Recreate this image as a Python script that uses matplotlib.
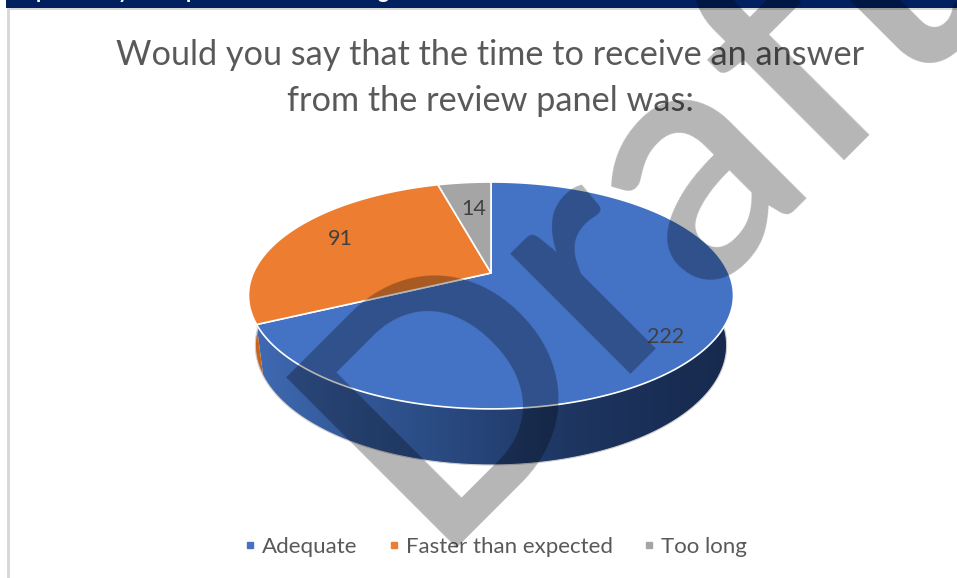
import numpy as np
import matplotlib
matplotlib.use('Agg')
import matplotlib.pyplot as plt
from matplotlib.lines import Line2D
from matplotlib.patches import Polygon, Rectangle
from matplotlib.colors import LinearSegmentedColormap

categories = ['Adequate', 'Faster than expected', 'Too long']
values = [222, 91, 14]
colors = ['#4472C4', '#ED7D31', '#A5A5A5']
title = 'Would you say that the time to receive an answer\nfrom the review panel was:'

plt.rcParams['font.family'] = ['Lato', 'DejaVu Sans']

W, H = 957, 578
fig = plt.figure(figsize=(W / 100, H / 100), dpi=100)
ax = fig.add_axes([0, 0, 1, 1])
ax.set_xlim(0, W)
ax.set_ylim(H, 0)
ax.axis('off')

# perspective of the pie, top face and bottom face
cx = 491
k = 0.198
top = dict(a=237.7, b=109, y0=273)
bot = dict(a=231, b=115, y0=321.6)


def project(deg, f):
    t = np.radians(deg)
    u, v = np.cos(t), np.sin(t)
    d = 1 + k * v
    return cx + f['a'] * u / d, f['y0'] - f['b'] * v / d


# slice angles, clockwise from 12 o'clock
angles = 90 - np.cumsum([0] + values) / sum(values) * 360

# frame and header
ax.add_patch(Rectangle((6, 0), W - 6, 8, color='#002060', lw=0, zorder=1))
ax.add_patch(Rectangle((7, 8), W - 7, 2, color='#D9D9D9', lw=0, zorder=1))
ax.add_patch(Rectangle((7, 8), 3, H - 8, color='#D9D9D9', lw=0, zorder=1))

# only the descenders of the page heading are left in the band
for ch, hx in zip(['p', 'y', 'p', 'g'], [42, 123, 192, 383]):
    ax.text(hx, -2, ch, color='white', fontsize=15, fontweight='bold', ha='center',
            va='baseline', zorder=2)

# side wall, only the front half shows
grad = LinearSegmentedColormap.from_list('side', ['#3F69B2', '#2C4E88', '#1D3560', '#17294D'])
side_col = {0: None, 1: '#C5651F', 2: '#8A8A8A'}
for i in range(len(values)):
    lo, hi = sorted((angles[i + 1] % 360, angles[i] % 360))
    if i == 0:
        lo, hi = angles[1] + 360, 360
    lo, hi = max(lo, 180), min(hi, 360)
    if lo >= hi:
        continue
    th = np.linspace(lo, hi, 120)
    x1, y1 = project(th, top)
    x2, y2 = project(th, bot)
    pts = np.column_stack([np.r_[x1, x2[::-1]], np.r_[y1, y2[::-1]]])
    if i == 0:
        poly = Polygon(pts, closed=True, fc='none', ec='none', zorder=2)
        ax.add_patch(poly)
        img = ax.imshow(np.linspace(0, 1, 256)[None, :], cmap=grad, aspect='auto',
                        extent=(x1.min(), x1.max(), 480, 300), zorder=2)
        img.set_clip_path(poly)
        ax.set_xlim(0, W)
        ax.set_ylim(H, 0)
    else:
        ax.fill(pts[:, 0], pts[:, 1], color=side_col[i], lw=0, zorder=2)

th = np.linspace(180, 360, 200)
x2, y2 = project(th, bot)
ax.plot(x2, y2, color='#D0D0D0', lw=0.8, zorder=3)

# top faces
for i, c in enumerate(colors):
    th = np.linspace(angles[i], angles[i + 1], 200)
    xs, ys = project(th, top)
    xs = np.r_[cx, xs]
    ys = np.r_[top['y0'], ys]
    ax.fill(xs, ys, fc=c, ec='white', lw=1.2, joinstyle='round', zorder=4)

# data labels
label_x = [666, 340, 474]
label_y = [337, 239, 209]
for v, lx, ly in zip(values, label_x, label_y):
    ax.text(lx, ly, str(v), color='#404040', fontsize=15.5, ha='center', va='center', zorder=5)

ax.text(490, 78, title, color='#595959', fontsize=24.7, ha='center', va='center',
        linespacing=1.55, zorder=5)

handles = [Line2D([], [], ls='none', marker='s', ms=5, color=c) for c in colors]
ax.legend(handles, categories, loc='center', bbox_to_anchor=(493 / W, 1 - 547 / H), ncols=3,
          frameon=False, fontsize=16, labelcolor='#595959', handletextpad=0.05,
          columnspacing=1.12, handlelength=1.0)

# watermark, black at low alpha darkens everything like the original
ax.text(428, 548, 'Draft', fontsize=240, color='black', alpha=0.29, fontweight=600,
        rotation=45, rotation_mode='anchor', ha='left', va='baseline', zorder=6)

fig.savefig('out.png', dpi=100)
